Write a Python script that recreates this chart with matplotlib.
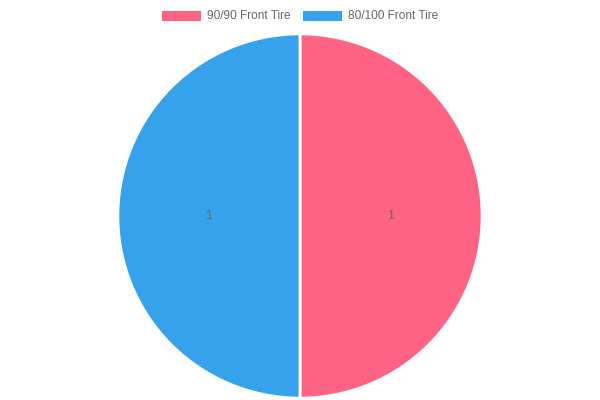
import matplotlib.pyplot as plt
from matplotlib.patches import Rectangle

# data
labels = ['90/90 Front Tire', '80/100 Front Tire']
values = [1, 1]
colors = ['#FF6384', '#36A2EB']

plt.rcParams['font.family'] = ['Liberation Sans', 'DejaVu Sans']

fig = plt.figure(figsize=(6, 4), dpi=100)
ax = fig.add_axes([117 / 600, 1 / 400, 366 / 600, 366 / 400])

total = sum(values)
wedges, texts, autotexts = ax.pie(
    values, colors=colors, startangle=90, counterclock=False,
    wedgeprops=dict(edgecolor='white', linewidth=2),
    autopct=lambda p: f'{p * total / 100:.0f}', pctdistance=0.5,
    textprops=dict(color='#666666', fontsize=9),
)
ax.set_xlim(-1.005, 1.005)
ax.set_ylim(-1.005, 1.005)
ax.set_aspect('equal')
ax.axis('off')

# legend across the top, Chart.js style
box_x = [162, 303]
for x, lab, col in zip(box_x, labels, colors):
    fig.patches.append(Rectangle((x / 600, 1 - 20.5 / 400), 39 / 600, 9.5 / 400,
                                 transform=fig.transFigure, facecolor=col,
                                 edgecolor='none'))
    fig.text((x + 45) / 600, 1 - 16 / 400, lab, fontsize=8.6, color='#666666',
             va='center', ha='left')

fig.savefig('out.png', dpi=100)
